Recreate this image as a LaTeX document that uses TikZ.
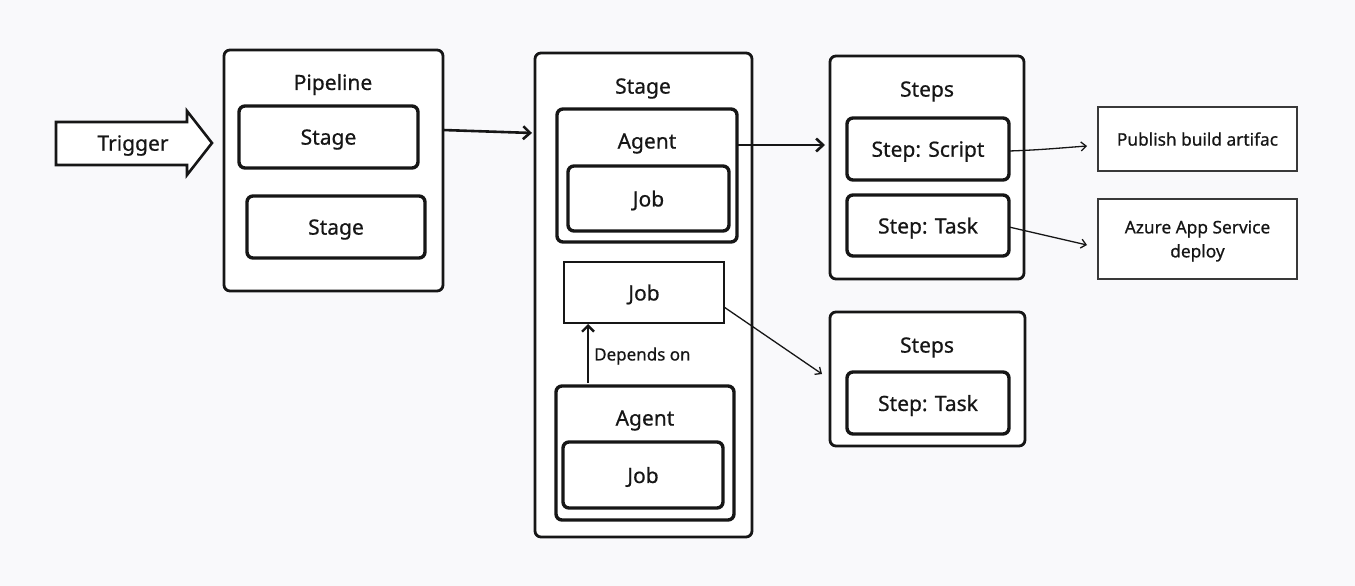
\documentclass[tikz,border=0pt]{standalone}
\usepackage{fontspec}
\setmainfont{Noto Sans}[FakeBold=0.6]
\usetikzlibrary{arrows.meta}
\definecolor{bg}{RGB}{249,249,251}
\definecolor{ink}{RGB}{22,22,22}
\begin{document}
\begin{tikzpicture}[x=1pt,y=-1pt,
  every node/.style={text depth=0pt},
  frame/.style={draw=ink,line width=2.8pt,fill=white,rounded corners=6pt,inner sep=0pt},
  inbox/.style={draw=ink,line width=3.4pt,fill=white,rounded corners=6pt,inner sep=0pt,text=ink,font=\fontsize{21}{24}\selectfont},
  plain/.style={draw=ink,line width=2pt,fill=white,inner sep=0pt,text=ink,font=\fontsize{21}{24}\selectfont},
  thinbox/.style={draw=ink!85,line width=1.4pt,fill=white,inner sep=0pt,align=center,text=ink,font=\fontsize{17.3}{24}\selectfont},
  title/.style={inner sep=0pt,text=ink,font=\fontsize{21}{24}\selectfont},
  boldarrow/.style={draw=ink,line width=2.6pt,-{Straight Barb[length=7pt,width=13pt,line width=2.6pt]}},
  thinarrow/.style={draw=ink,line width=1.3pt,-{Straight Barb[length=5pt,width=9pt,line width=1.3pt]}}
]
\useasboundingbox[fill=bg] (0,0) rectangle (1355,586);

% trigger arrow
\draw[draw=ink,line width=2.6pt,fill=white,line join=miter]
  (56,122) -- (187,122) -- (187,111) -- (212,143) -- (187,175) -- (187,165) -- (56,165) -- cycle;
\node[title] (trig) at (133,143) {Trigger};

% pipeline
\node[frame,minimum width=219pt,minimum height=241pt] (pipe) at (333.5,170.5) {};
\node[title] (pipeT) at (333,82) {Pipeline};
\node[inbox,minimum width=179pt,minimum height=62pt] (st1) at (328.5,137) {Stage};
\node[inbox,minimum width=178pt,minimum height=62pt] (st2) at (336,227) {Stage};

% stage
\node[frame,minimum width=217pt,minimum height=484pt] (stage) at (643.5,295) {};
\node[title] (stageT) at (643,86) {Stage};
\node[inbox,minimum width=180pt,minimum height=133pt] (ag1) at (647,175.5) {};
\node[title] (ag1T) at (647,141) {Agent};
\node[inbox,minimum width=161pt,minimum height=65pt] (job1) at (648.5,198.5) {Job};
\node[plain,minimum width=160pt,minimum height=61pt] (job2) at (644,292.5) {Job};
\node[inbox,minimum width=178pt,minimum height=134pt] (ag2) at (645,453) {};
\node[title] (ag2T) at (645,418) {Agent};
\node[inbox,minimum width=160pt,minimum height=66pt] (job3) at (643,475) {Job};

% steps
\node[frame,minimum width=194pt,minimum height=223pt] (steps1) at (927,167.5) {};
\node[title] (steps1T) at (927,89) {Steps};
\node[inbox,minimum width=162pt,minimum height=62pt] (sscript) at (928,149) {Step: Script};
\node[inbox,minimum width=162pt,minimum height=61pt] (stask1) at (928,225.5) {Step: Task};
\node[frame,minimum width=195pt,minimum height=134pt] (steps2) at (927.5,379) {};
\node[title] (steps2T) at (927,345) {Steps};
\node[inbox,minimum width=162pt,minimum height=62pt] (stask2) at (928,403) {Step: Task};

% targets
\node[thinbox,minimum width=199pt,minimum height=64pt] (pub) at (1197.5,139) {Publish build artifac};
\node[thinbox,minimum width=199pt,minimum height=80pt] (azure) at (1197.5,239) {Azure App Service\\deploy};

% connectors
\coordinate (pipeOut) at (443,130);
\coordinate (stageIn) at (532,133);
\draw[boldarrow] (pipeOut) -- (stageIn);
\coordinate (ag1Out) at (737,145);
\coordinate (steps1In) at (825,145);
\draw[boldarrow] (ag1Out) -- (steps1In);
\coordinate (job2Out) at (724,307);
\coordinate (steps2In) at (822,374);
\draw[thinarrow] (job2Out) -- (steps2In);
\coordinate (dep0) at (588,383);
\draw[draw=ink,line width=2.6pt,-{Straight Barb[length=6pt,width=12pt,line width=2.4pt]}] (dep0) -- (dep0 |- job2.south);
\node[inner sep=0pt,anchor=west,text=ink,font=\fontsize{17}{20}\selectfont] (dep) at (594,354) {Depends on};
\coordinate (scrOut) at (1009,151);
\coordinate (pubIn) at (1087,146);
\draw[thinarrow] (scrOut) .. controls (1040,150) and (1060,148) .. (pubIn);
\coordinate (taskOut) at (1009,227);
\coordinate (azIn) at (1087,245);
\draw[thinarrow] (taskOut) -- (azIn);
\end{tikzpicture}
\end{document}
